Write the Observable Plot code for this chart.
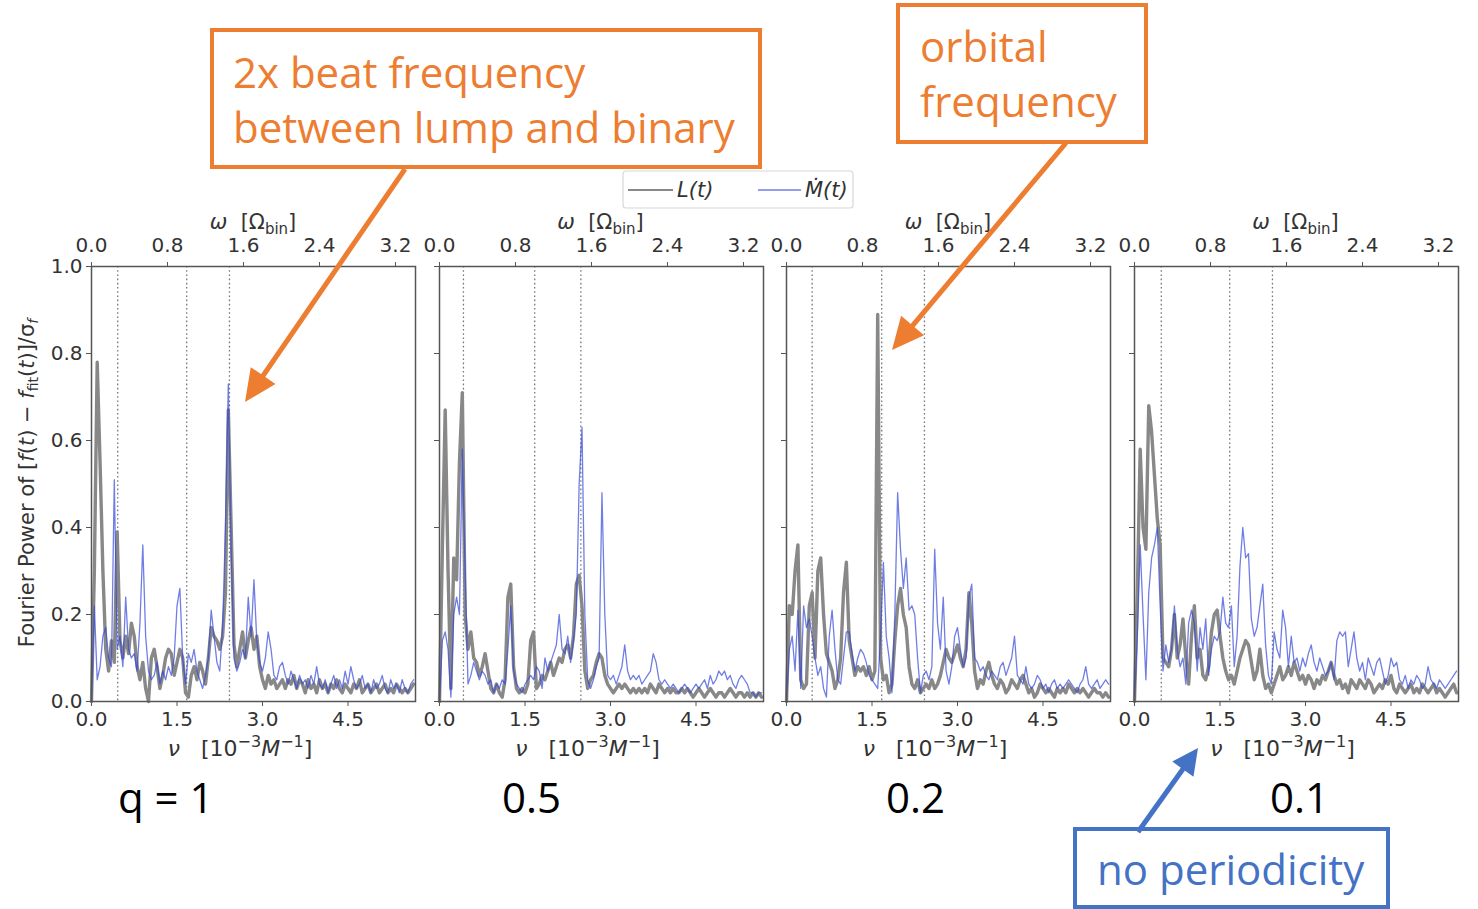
<!DOCTYPE html>
<html>
<head>
<meta charset="utf-8">
<script src="https://cdn.jsdelivr.net/npm/d3@7"></script>
<script src="https://cdn.jsdelivr.net/npm/@observablehq/plot@0.6"></script>
<style>
  html, body { margin: 0; padding: 0; background: #fff; }
  #root { position: relative; width: 1478px; height: 909px; overflow: hidden; background: #fff; }
  #root svg { position: absolute; }
</style>
</head>
<body>
<div id="root"></div>
<script>
// ---------------- data ----------------
const nuStep = 0.05;               // frequency grid spacing, 10^-3 M^-1
const omegaPerNu = 0.6;            // ω [Ω_bin] per ν [10^-3 M^-1]
const nuMax = 5.684;
const panelLabels = ["q = 1", "0.5", "0.2", "0.1"];
const nuTicks = [0, 1.5, 3.0, 4.5];
const omegaTicks = [0, 0.8, 1.6, 2.4, 3.2];
const powerTicks = [0, 0.2, 0.4, 0.6, 0.8, 1.0];
const seriesNames = ["L(t)", "Ṁ(t)"];

// q = 1
const L_q1 = [
  0.00,0.30,0.78,0.55,0.30,0.12,0.07,0.14,0.09,0.39,
  0.14,0.10,0.15,0.11,0.18,0.15,0.08,0.05,0.09,0.03,
  0.00,0.10,0.12,0.08,0.03,0.06,0.10,0.12,0.11,0.06,
  0.09,0.12,0.10,0.02,0.01,0.06,0.08,0.05,0.09,0.07,
  0.04,0.10,0.17,0.15,0.14,0.12,0.15,0.25,0.67,0.40,
  0.13,0.08,0.12,0.16,0.10,0.14,0.17,0.12,0.15,0.08,
  0.05,0.03,0.06,0.04,0.05,0.03,0.04,0.05,0.03,0.05,
  0.04,0.06,0.03,0.05,0.04,0.02,0.05,0.03,0.04,0.02,
  0.05,0.03,0.04,0.02,0.04,0.03,0.05,0.03,0.02,0.04,
  0.03,0.02,0.04,0.03,0.05,0.02,0.03,0.04,0.02,0.03,
  0.04,0.02,0.03,0.04,0.02,0.03,0.02,0.04,0.03,0.02,
  0.03,0.02,0.03,0.04];
const Mdot_q1 = [
  0.00,0.22,0.05,0.08,0.15,0.17,0.10,0.08,0.51,0.12,
  0.15,0.08,0.24,0.12,0.10,0.11,0.07,0.18,0.36,0.15,
  0.07,0.05,0.06,0.09,0.04,0.07,0.05,0.08,0.06,0.10,
  0.22,0.26,0.10,0.04,0.11,0.09,0.12,0.07,0.05,0.03,
  0.06,0.10,0.21,0.15,0.09,0.07,0.17,0.40,0.73,0.35,
  0.10,0.07,0.09,0.12,0.10,0.24,0.15,0.28,0.14,0.09,
  0.07,0.10,0.16,0.12,0.06,0.05,0.08,0.09,0.06,0.04,
  0.07,0.05,0.03,0.06,0.04,0.05,0.03,0.06,0.04,0.08,
  0.04,0.03,0.05,0.02,0.04,0.06,0.03,0.05,0.03,0.07,
  0.04,0.08,0.05,0.03,0.04,0.06,0.03,0.04,0.02,0.05,
  0.03,0.04,0.06,0.03,0.02,0.05,0.03,0.04,0.02,0.05,
  0.03,0.02,0.04,0.05];
const guides_q1 = [0.46, 1.67, 2.42];

// q = 0.5
const L_q05 = [
  0.00,0.35,0.67,0.30,0.03,0.33,0.28,0.55,0.71,0.20,
  0.12,0.16,0.10,0.09,0.06,0.08,0.11,0.07,0.03,0.02,
  0.04,0.02,0.01,0.05,0.24,0.27,0.08,0.03,0.02,0.03,
  0.02,0.04,0.14,0.16,0.03,0.04,0.06,0.05,0.07,0.09,
  0.06,0.08,0.10,0.09,0.12,0.13,0.10,0.15,0.27,0.29,
  0.22,0.07,0.03,0.05,0.06,0.09,0.11,0.10,0.06,0.04,
  0.03,0.02,0.03,0.04,0.03,0.04,0.03,0.02,0.03,0.02,
  0.03,0.02,0.03,0.02,0.04,0.03,0.02,0.04,0.03,0.02,
  0.03,0.02,0.03,0.02,0.02,0.03,0.02,0.03,0.02,0.01,
  0.02,0.03,0.02,0.01,0.02,0.03,0.02,0.01,0.02,0.02,
  0.01,0.02,0.03,0.02,0.01,0.02,0.02,0.01,0.02,0.01,
  0.02,0.01,0.02,0.01];
const Mdot_q05 = [
  0.00,0.14,0.16,0.12,0.01,0.20,0.24,0.20,0.58,0.30,
  0.04,0.06,0.09,0.07,0.05,0.07,0.06,0.04,0.05,0.02,
  0.04,0.03,0.05,0.04,0.12,0.22,0.07,0.04,0.03,0.02,
  0.04,0.05,0.06,0.05,0.08,0.07,0.03,0.10,0.07,0.09,
  0.11,0.13,0.20,0.12,0.11,0.15,0.09,0.14,0.20,0.50,
  0.63,0.20,0.05,0.03,0.05,0.08,0.10,0.48,0.20,0.06,
  0.05,0.06,0.04,0.06,0.08,0.13,0.07,0.05,0.06,0.05,
  0.06,0.04,0.05,0.06,0.07,0.11,0.09,0.05,0.04,0.05,
  0.04,0.03,0.04,0.03,0.02,0.03,0.04,0.03,0.02,0.03,
  0.04,0.03,0.04,0.05,0.03,0.06,0.04,0.05,0.07,0.06,
  0.07,0.05,0.06,0.04,0.03,0.05,0.06,0.05,0.04,0.02,
  0.02,0.01,0.02,0.02];
const guides_q05 = [0.42, 1.67, 2.48];

// q = 0.2
const L_q02 = [
  0.00,0.22,0.20,0.30,0.36,0.05,0.03,0.04,0.22,0.25,
  0.10,0.30,0.33,0.20,0.11,0.09,0.07,0.03,0.05,0.10,
  0.25,0.32,0.14,0.10,0.06,0.08,0.07,0.08,0.06,0.08,
  0.05,0.07,0.89,0.10,0.05,0.06,0.02,0.04,0.14,0.22,
  0.26,0.20,0.17,0.08,0.04,0.03,0.05,0.02,0.03,0.04,
  0.03,0.05,0.03,0.04,0.06,0.09,0.12,0.10,0.09,0.11,
  0.13,0.10,0.08,0.12,0.25,0.18,0.07,0.03,0.05,0.04,
  0.07,0.09,0.06,0.04,0.03,0.05,0.04,0.02,0.03,0.05,
  0.04,0.03,0.05,0.06,0.04,0.02,0.03,0.01,0.02,0.04,
  0.03,0.02,0.03,0.02,0.01,0.03,0.02,0.03,0.02,0.04,
  0.03,0.02,0.03,0.02,0.03,0.02,0.01,0.02,0.03,0.02,
  0.02,0.01,0.02,0.01];
const Mdot_q02 = [
  0.00,0.12,0.15,0.07,0.21,0.03,0.22,0.17,0.19,0.15,
  0.10,0.06,0.08,0.03,0.01,0.15,0.21,0.12,0.05,0.04,
  0.10,0.16,0.16,0.11,0.07,0.10,0.12,0.11,0.09,0.06,
  0.05,0.04,0.03,0.15,0.32,0.15,0.10,0.02,0.20,0.48,
  0.35,0.26,0.33,0.21,0.22,0.20,0.10,0.02,0.06,0.07,
  0.05,0.08,0.35,0.18,0.12,0.24,0.07,0.04,0.08,0.15,
  0.17,0.12,0.08,0.10,0.24,0.27,0.10,0.09,0.07,0.08,
  0.06,0.05,0.07,0.06,0.05,0.08,0.09,0.06,0.08,0.10,
  0.15,0.06,0.05,0.04,0.08,0.04,0.03,0.04,0.06,0.05,
  0.03,0.04,0.02,0.04,0.05,0.03,0.04,0.03,0.04,0.05,
  0.04,0.03,0.02,0.04,0.05,0.08,0.04,0.03,0.04,0.05,
  0.03,0.04,0.05,0.04];
const guides_q02 = [0.45, 1.67, 2.42];

// q = 0.1
const L_q01 = [
  0.00,0.25,0.58,0.40,0.35,0.68,0.62,0.52,0.42,0.36,
  0.10,0.09,0.08,0.12,0.20,0.10,0.13,0.19,0.10,0.04,
  0.15,0.22,0.10,0.12,0.06,0.05,0.08,0.16,0.20,0.21,
  0.15,0.10,0.07,0.05,0.06,0.04,0.07,0.10,0.12,0.14,
  0.13,0.09,0.05,0.07,0.12,0.06,0.03,0.04,0.02,0.04,
  0.06,0.08,0.05,0.06,0.08,0.06,0.09,0.07,0.05,0.06,
  0.04,0.06,0.05,0.03,0.05,0.04,0.06,0.05,0.07,0.09,
  0.06,0.04,0.05,0.03,0.04,0.02,0.05,0.04,0.03,0.05,
  0.04,0.03,0.05,0.04,0.02,0.03,0.04,0.03,0.05,0.04,
  0.06,0.03,0.02,0.04,0.03,0.02,0.03,0.04,0.02,0.03,
  0.02,0.04,0.03,0.02,0.03,0.04,0.02,0.03,0.02,0.01,
  0.02,0.03,0.04,0.02];
const Mdot_q01 = [
  0.00,0.15,0.36,0.20,0.05,0.25,0.33,0.36,0.40,0.22,
  0.07,0.13,0.09,0.12,0.22,0.12,0.08,0.10,0.04,0.18,
  0.21,0.18,0.07,0.17,0.12,0.19,0.06,0.12,0.15,0.14,
  0.16,0.24,0.18,0.17,0.22,0.08,0.15,0.31,0.40,0.33,
  0.34,0.19,0.15,0.17,0.22,0.27,0.13,0.06,0.04,0.16,
  0.12,0.10,0.21,0.17,0.08,0.15,0.09,0.10,0.07,0.10,
  0.08,0.11,0.13,0.09,0.07,0.10,0.08,0.06,0.07,0.09,
  0.05,0.14,0.16,0.15,0.16,0.08,0.12,0.16,0.10,0.07,
  0.09,0.05,0.10,0.08,0.06,0.09,0.10,0.07,0.04,0.06,
  0.10,0.08,0.09,0.05,0.04,0.06,0.03,0.05,0.04,0.06,
  0.05,0.03,0.04,0.08,0.05,0.04,0.03,0.05,0.04,0.03,
  0.04,0.05,0.06,0.07];
const guides_q01 = [0.47, 1.67, 2.42];

// ---------------- layout ----------------
const frameLeft = [91, 438.5, 786, 1133.5];
const frameTop = 266, frameW = 324, frameH = 435;
const textColor = "#333";
const grayColor = "#888";
const blueColor = "#3347d9";
const orange = "#ED7D31";
const officeBlue = "#4472C4";

const root = document.getElementById("root");
const panels = [
  {L: L_q1, M: Mdot_q1, guides: guides_q1},
  {L: L_q05, M: Mdot_q05, guides: guides_q05},
  {L: L_q02, M: Mdot_q02, guides: guides_q02},
  {L: L_q01, M: Mdot_q01, guides: guides_q01}
];
const toRows = arr => arr.map((p, k) => ({nu: k * nuStep, p}));

panels.forEach((s, i) => {
  const mL = i === 0 ? 60 : 24, mR = 6, mT = 40, mB = 40;
  const chart = Plot.plot({
    width: frameW + mL + mR,
    height: frameH + mT + mB,
    marginLeft: mL, marginRight: mR, marginTop: mT, marginBottom: mB,
    style: {background: "none", overflow: "visible", color: textColor,
            fontFamily: "DejaVu Sans", fontSize: "20px"},
    x: {domain: [0, nuMax]},
    y: {domain: [0, 1]},
    marks: [
      Plot.ruleX(s.guides, {stroke: "#777", strokeWidth: 1.3, strokeDasharray: "1.6,2.6"}),
      Plot.lineY(toRows(s.L), {x: "nu", y: "p", stroke: grayColor, strokeWidth: 3.4, strokeLinejoin: "round"}),
      Plot.lineY(toRows(s.M), {x: "nu", y: "p", stroke: blueColor, strokeWidth: 1.3, strokeOpacity: 0.7, strokeLinejoin: "round"}),
      Plot.frame({stroke: "#555", strokeWidth: 1.5}),
      Plot.axisX({anchor: "bottom", ticks: nuTicks, tickFormat: d3.format(".1f"),
                  tickSize: 5, tickPadding: 5, label: null, fontSize: 20, stroke: "#555"}),
      Plot.axisX({anchor: "top", ticks: omegaTicks.map(w => w / omegaPerNu),
                  tickFormat: d => (d * omegaPerNu).toFixed(1),
                  tickSize: 5, tickPadding: 10, label: null, fontSize: 20, stroke: "#555"}),
      Plot.axisY({ticks: powerTicks, tickFormat: i === 0 ? d3.format(".1f") : () => "",
                  tickSize: 5, tickPadding: 4, label: null, fontSize: 20, stroke: "#555"})
    ]
  });
  chart.style.left = (frameLeft[i] - mL) + "px";
  chart.style.top = (frameTop - mT) + "px";
  root.append(chart);
});

// ---------------- overlay: axis titles, legend, annotations ----------------
const NS = "http://www.w3.org/2000/svg";
const ov = document.createElementNS(NS, "svg");
ov.setAttribute("width", 1478);
ov.setAttribute("height", 909);
ov.style.left = "0px"; ov.style.top = "0px"; ov.style.overflow = "visible";
let h = "";
frameLeft.forEach((x0, i) => {
  const cx = x0 + frameW / 2;
  h += `<text x="${cx}" y="229" text-anchor="middle" font-family="DejaVu Sans" font-size="21" fill="${textColor}"><tspan font-style="italic">ω</tspan>&#160;&#160;[Ω<tspan font-size="15" dy="5">bin</tspan><tspan dy="-5">]</tspan></text>`;
  h += `<text x="${cx - 13}" y="756" text-anchor="middle" font-family="DejaVu Sans" font-size="22" fill="${textColor}"><tspan font-style="italic">ν</tspan>&#160;&#160;&#160;[10<tspan font-size="16" dy="-9">−3</tspan><tspan dy="9" font-style="italic">M</tspan><tspan font-size="16" dy="-9">−1</tspan><tspan dy="9">]</tspan></text>`;
});
h += `<text transform="translate(34,483) rotate(-90)" text-anchor="middle" font-family="DejaVu Sans" font-size="21" fill="${textColor}">Fourier Power of [<tspan font-style="italic">f</tspan>(<tspan font-style="italic">t</tspan>) − <tspan font-style="italic">f</tspan><tspan font-size="14" dy="4">fit</tspan><tspan dy="-4">(</tspan><tspan font-style="italic">t</tspan>)]/σ<tspan font-size="14" dy="4" font-style="italic">f</tspan></text>`;

// q labels
const qx = [118, 502, 886, 1270];
panelLabels.forEach((t, i) => {
  h += `<text x="${qx[i]}" y="813" font-family="Open Sans" font-size="42" fill="#000">${t}</text>`;
});

// legend
h += `<rect x="623" y="171" width="230" height="37" rx="3" fill="#fff" stroke="#d8d8d8" stroke-width="1.2"/>`;
h += `<line x1="628" x2="673" y1="190" y2="190" stroke="${grayColor}" stroke-width="2"/>`;
h += `<text x="677" y="197" font-family="DejaVu Sans" font-style="italic" font-size="21" fill="${textColor}">${seriesNames[0]}</text>`;
h += `<line x1="758" x2="801" y1="190" y2="190" stroke="${blueColor}" stroke-opacity="0.7" stroke-width="1.3"/>`;
h += `<text x="805" y="197" font-family="DejaVu Sans" font-style="italic" font-size="21" fill="${textColor}">${seriesNames[1]}</text>`;

function arrow(x1, y1, x2, y2, color, w, hl, hw) {
  const dx = x2 - x1, dy = y2 - y1, len = Math.hypot(dx, dy);
  const ux = dx / len, uy = dy / len, nx = -uy, ny = ux;
  const bx = x2 - hl * ux, by = y2 - hl * uy;
  let s = `<line x1="${x1}" y1="${y1}" x2="${bx + 2 * ux}" y2="${by + 2 * uy}" stroke="${color}" stroke-width="${w}"/>`;
  s += `<polygon points="${x2},${y2} ${bx + hw * nx},${by + hw * ny} ${bx - hw * nx},${by - hw * ny}" fill="${color}"/>`;
  return s;
}
// orange annotation boxes
h += `<rect x="212" y="30" width="548" height="137" fill="#fff" stroke="${orange}" stroke-width="4"/>`;
h += `<text x="233" y="88" font-family="Open Sans" font-size="42" fill="${orange}">2x beat frequency</text>`;
h += `<text x="233" y="143" font-family="Open Sans" font-size="42" fill="${orange}">between lump and binary</text>`;
h += `<rect x="898" y="5" width="248" height="137" fill="#fff" stroke="${orange}" stroke-width="4"/>`;
h += `<text x="920" y="62" font-family="Open Sans" font-size="42" fill="${orange}">orbital</text>`;
h += `<text x="920" y="117" font-family="Open Sans" font-size="42" fill="${orange}">frequency</text>`;
h += arrow(405, 169, 245, 402, orange, 5, 32, 15);
h += arrow(1066, 143, 892, 350, orange, 5, 32, 15);
// blue annotation
h += `<rect x="1075" y="829" width="313" height="78" fill="#fff" stroke="${officeBlue}" stroke-width="4"/>`;
h += `<text x="1097" y="885" font-family="Open Sans" font-size="42" fill="${officeBlue}">no periodicity</text>`;
h += arrow(1138, 832, 1198, 748, officeBlue, 5, 26, 13);
ov.innerHTML = h;
root.append(ov);
</script>
</body>
</html>
